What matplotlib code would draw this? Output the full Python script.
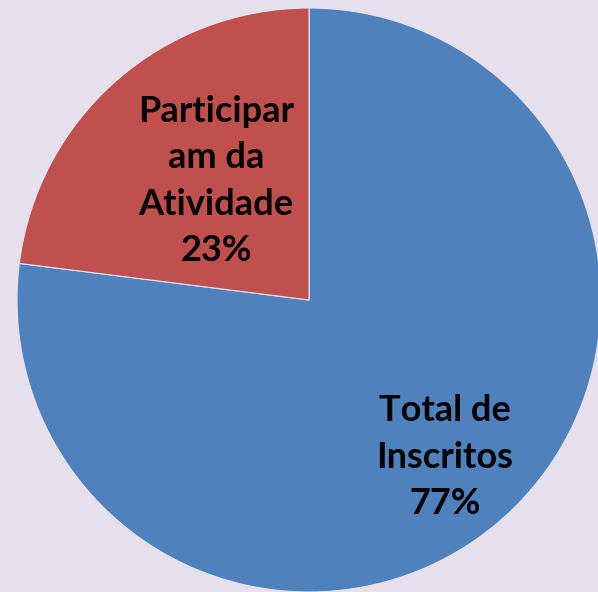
import matplotlib
matplotlib.use("Agg")
import matplotlib.pyplot as plt

categories = ["Total de\nInscritos", "Participar\nam da\nAtividade"]
values = [77, 23]
colors = ["#4F81BD", "#C0504D"]

bg = "#E6E0EC"
fig = plt.figure(figsize=(5.98, 5.92), dpi=100, facecolor=bg)
ax = fig.add_axes([0, 0, 1, 1])
ax.set_facecolor(bg)

R = 292.0
cx, cy = 309.0, 300.0
W, H = 598.0, 592.0

wedges, _ = ax.pie(values, colors=colors, startangle=90, counterclock=False,
                   radius=1.0, wedgeprops=dict(edgecolor="#E8E4F0", linewidth=0.8))
ax.set_aspect("auto")
ax.set_xlim(-cx / R, (W - cx) / R)
ax.set_ylim(-(H - cy) / R, cy / R)
ax.axis("off")

label_pos = [((445 - cx) / R, -(457 - cy) / R), ((216 - cx) / R, -(181 - cy) / R)]
for cat, v, (x, y) in zip(categories, values, label_pos):
    ax.text(x, y, f"{cat}\n{v}%", ha="center", va="center", fontsize=26,
            fontweight="bold", family="Lato", linespacing=1.5, color="black")

fig.savefig("out.png", dpi=100, facecolor=bg)
